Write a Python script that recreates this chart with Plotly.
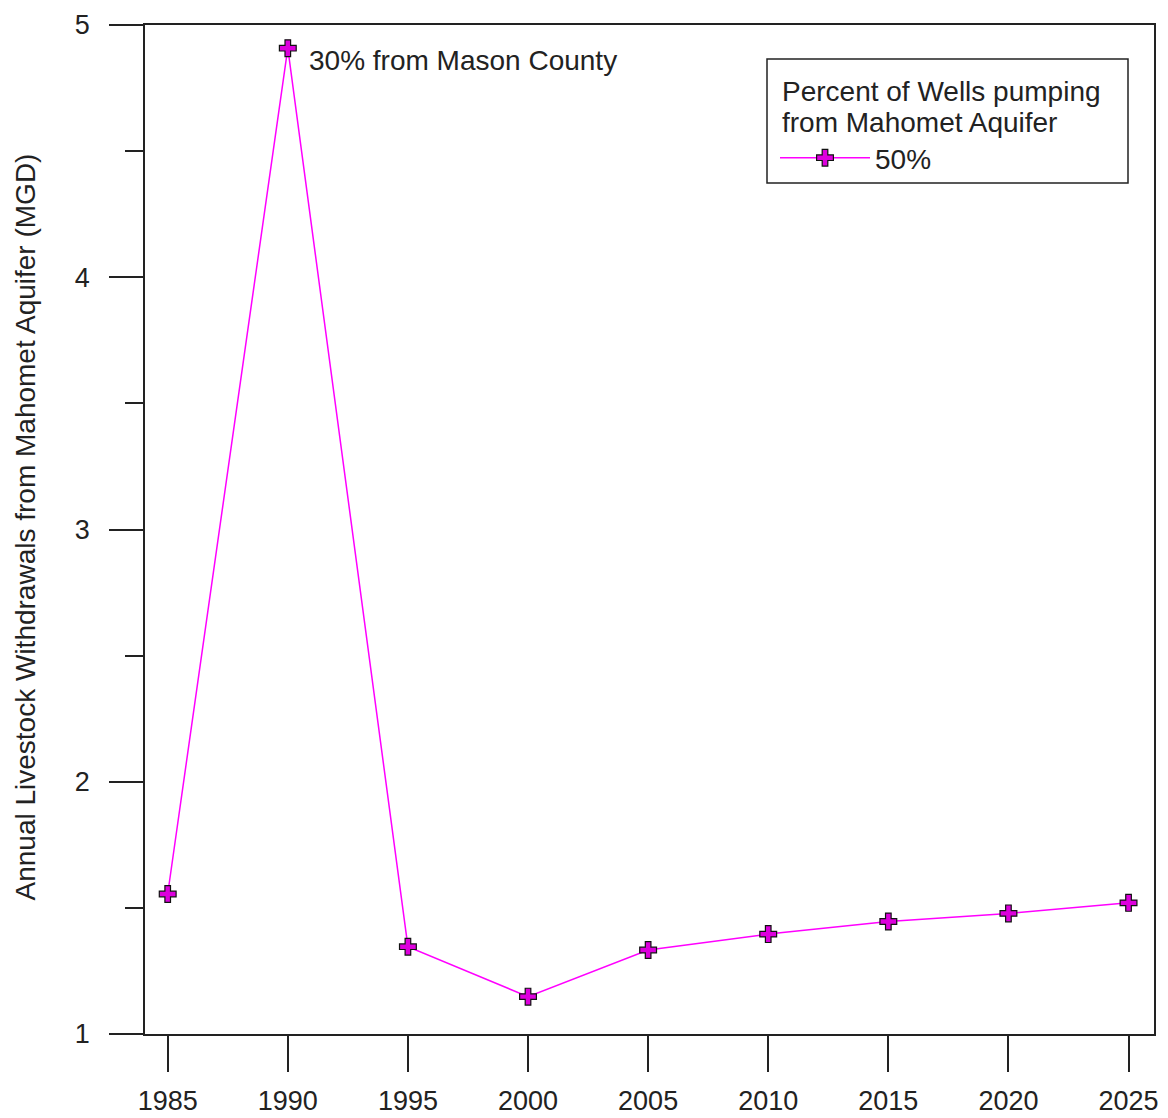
import plotly.graph_objects as go

years = [1985, 1990, 1995, 2000, 2005, 2010, 2015, 2020, 2025]
withdrawals = [1.555, 4.908, 1.346, 1.148, 1.333, 1.396, 1.446, 1.478, 1.52]
series_name = "50%"
legend_title_lines = ["Percent of Wells pumping", "from Mahomet Aquifer"]
annotation_text = "30% from Mason County"
annotation_year = 1990
y_title = "Annual Livestock Withdrawals from Mahomet Aquifer (MGD)"
x_ticks = [1985, 1990, 1995, 2000, 2005, 2010, 2015, 2020, 2025]
y_ticks = [1, 2, 3, 4, 5]

FONT = "Liberation Sans, Arial, sans-serif"
INK = "#222222"

# plot area in px: x 145..1154, y 25..1034
L, R, T, B = 145, 1154, 25, 1034
W, H = R - L, B - T
px = lambda x: (x - L) / W
py = lambda y: (B - y) / H

fig = go.Figure()
fig.add_trace(go.Scatter(
    x=years, y=withdrawals, mode="lines+markers", name=series_name,
    line=dict(color="#FF00FF", width=1.5),
    marker=dict(symbol="cross", size=14, color="#DD00DD",
                line=dict(color="#111111", width=1.2)),
))

ann_y = withdrawals[years.index(annotation_year)]
fig.add_annotation(x=annotation_year, y=ann_y, xref="x", yref="y",
                   text=annotation_text, showarrow=False,
                   xanchor="left", yanchor="middle", xshift=19, yshift=-12,
                   font=dict(family=FONT, size=28, color=INK))

fig.add_annotation(x=px(25), y=py(527.5), xref="paper", yref="paper",
                   text=y_title, showarrow=False, textangle=-90,
                   xanchor="center", yanchor="middle",
                   font=dict(family=FONT, size=28, color=INK))

# legend frame and title
fig.add_shape(type="rect", xref="paper", yref="paper",
              x0=px(767), x1=px(1128), y0=py(183), y1=py(59),
              line=dict(color=INK, width=1.5), fillcolor="white", layer="above")
for line_text, cy in zip(legend_title_lines, [91.7, 122]):
    fig.add_annotation(x=px(780), y=py(cy), xref="paper", yref="paper",
                       text=line_text, showarrow=False,
                       xanchor="left", yanchor="middle",
                       font=dict(family=FONT, size=28, color=INK))

fig.update_layout(
    width=1168, height=1118,
    margin=dict(l=L, r=1168 - R, t=T, b=1118 - B, autoexpand=False),
    paper_bgcolor="white", plot_bgcolor="white",
    font=dict(family=FONT, size=28, color=INK),
    showlegend=True,
    legend=dict(
        x=px(775), y=py(158), xanchor="left", yanchor="middle",
        bgcolor="rgba(0,0,0,0)", borderwidth=0,
        font=dict(family=FONT, size=28, color=INK),
        itemwidth=90,
    ),
    xaxis=dict(
        range=[1984.055, 2026.06], tickvals=x_ticks,
        ticktext=[str(v) for v in x_ticks],
        ticks="outside", ticklen=36, tickwidth=1.5, tickcolor=INK,
        showline=True, linecolor=INK, linewidth=1.5, mirror=True,
        showgrid=False, zeroline=False, ticklabelstandoff=6,
        tickfont=dict(family=FONT, size=27, color=INK),
    ),
    yaxis=dict(
        range=[1, 5], tickvals=y_ticks,
        ticks="outside", ticklen=34, tickwidth=1.5, tickcolor=INK,
        minor=dict(dtick=0.5, ticks="outside", ticklen=18, tickwidth=1.5,
                   tickcolor=INK, showgrid=False),
        showline=True, linecolor=INK, linewidth=1.5, mirror=True,
        showgrid=False, zeroline=False, ticklabelstandoff=14,
        tickfont=dict(family=FONT, size=27, color=INK),
    ),
)

fig.write_html("out.html")
